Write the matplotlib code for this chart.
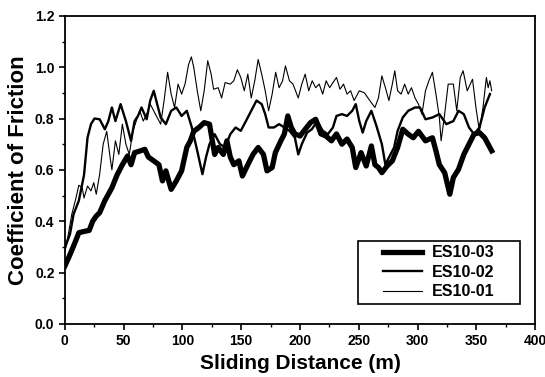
import matplotlib
matplotlib.use("Agg")
import matplotlib.pyplot as plt
from matplotlib.ticker import MultipleLocator
from matplotlib.patches import Rectangle

plt.rcParams['font.family'] = ['Liberation Sans', 'DejaVu Sans']
plt.rcParams['font.weight'] = 'bold'

# ES10-03 (thick)
x3 = [0, 4.4, 8.9, 11.9, 16.3, 20.7, 23.7, 26.7, 29.6, 34, 40, 44.4, 48.9, 53.3, 56.3, 59.3,
      63.7, 68, 71, 75.6, 80, 83, 85.9, 90.4, 94.8, 99.3, 103.7, 106.7, 109.6, 114, 118.5,
      123, 127.4, 130.4, 134.8, 137.8, 140.7, 143.7, 148, 151, 155.6, 160, 164.4, 168.9,
      171.9, 176.3, 179, 183.7, 186.7, 189.6, 192.6, 195.6, 200, 204.4, 208.9, 213.3,
      217.8, 222, 226.7, 231, 235.6, 240, 244.4, 247.4, 251.9, 256.3, 260.7, 263.7, 266.7,
      269.6, 274, 278.5, 283, 287.4, 292, 296.3, 300.7, 306.7, 312.6, 315.6, 318.5, 323,
      327.4, 330.4, 334.8, 339.3, 343.7, 348, 352.6, 357, 363]
y3 = [0.225, 0.27, 0.32, 0.355, 0.36, 0.364, 0.40, 0.42, 0.433, 0.48, 0.53, 0.58, 0.62,
      0.654, 0.62, 0.667, 0.673, 0.68, 0.65, 0.635, 0.62, 0.557, 0.596, 0.524, 0.557, 0.596,
      0.687, 0.713, 0.75, 0.765, 0.784, 0.778, 0.66, 0.687, 0.66, 0.713, 0.65, 0.62, 0.635,
      0.576, 0.62, 0.66, 0.687, 0.66, 0.596, 0.609, 0.667, 0.713, 0.74, 0.81, 0.765, 0.74,
      0.732, 0.758, 0.784, 0.797, 0.74, 0.732, 0.713, 0.74, 0.70, 0.72, 0.687, 0.609, 0.667,
      0.615, 0.693, 0.62, 0.609, 0.589, 0.615, 0.635, 0.687, 0.758, 0.739, 0.725, 0.75,
      0.713, 0.725, 0.674, 0.62, 0.589, 0.505, 0.57, 0.602, 0.66, 0.70, 0.739, 0.745,
      0.725, 0.674]

# ES10-02 (medium)
x2 = [0, 4.4, 7.4, 11.9, 16.3, 19.3, 22.2, 25.2, 29.6, 34, 37, 40, 43, 47.4, 51.9, 56.3,
      59.3, 62.2, 65.2, 69.6, 72.6, 75.6, 78.5, 81.5, 85.9, 90.4, 94.8, 99.3, 103.7, 108,
      112.6, 117, 120, 123, 127.4, 131.9, 136.3, 140.7, 145.2, 149.6, 154, 158.5, 163,
      167.4, 170.4, 173.3, 177.8, 182.2, 186.7, 191, 195.6, 198.5, 201.5, 206, 210, 214.8,
      219.3, 223.7, 228, 231, 235.6, 240, 244.4, 247.4, 250.4, 253.3, 256.3, 260.7, 265,
      269.6, 272.6, 275.6, 280, 283, 287.4, 292, 297.8, 302, 306.7, 312.6, 318.5, 324.4,
      330.4, 334.8, 339.3, 343.7, 348, 352.6, 357, 361.5]
y2 = [0.296, 0.35, 0.427, 0.48, 0.58, 0.726, 0.778, 0.80, 0.797, 0.758, 0.79, 0.843, 0.79,
      0.856, 0.79, 0.713, 0.79, 0.81, 0.843, 0.797, 0.87, 0.908, 0.856, 0.804, 0.778, 0.83,
      0.843, 0.81, 0.83, 0.765, 0.674, 0.583, 0.648, 0.70, 0.739, 0.70, 0.687, 0.739,
      0.765, 0.752, 0.79, 0.83, 0.87, 0.856, 0.817, 0.765, 0.765, 0.778, 0.765, 0.752,
      0.726, 0.66, 0.70, 0.745, 0.758, 0.79, 0.752, 0.739, 0.765, 0.81, 0.817, 0.81, 0.83,
      0.856, 0.79, 0.745, 0.79, 0.83, 0.771, 0.70, 0.62, 0.648, 0.687, 0.752, 0.804, 0.83,
      0.843, 0.843, 0.797, 0.804, 0.817, 0.778, 0.79, 0.83, 0.817, 0.765, 0.739, 0.765,
      0.843, 0.895]

# ES10-01 (thin)
x1 = [0, 3, 5.9, 8.9, 11.9, 14.8, 16.3, 19.3, 22.2, 24.6, 26.7, 29.6, 32.6, 35.6, 38.5, 40,
      43, 45.9, 48.9, 51.9, 54.8, 57.8, 60.7, 63.7, 66.7, 69.6, 72.6, 77, 81.5, 84.4, 87.4,
      90.4, 93.3, 96.3, 99.3, 102.2, 105.2, 107.6, 109.6, 112.6, 115.6, 118.5, 121.5, 124.4,
      126.5, 130.4, 133.3, 136.3, 140.7, 143.7, 146.7, 149.6, 152.6, 155.6, 158.5, 161.5,
      164.4, 167.4, 170.4, 173.3, 176.3, 179.3, 182.2, 185.2, 187.6, 191, 194, 198.5, 201.5,
      204.4, 207.4, 210.4, 213.3, 216.3, 219.3, 222.2, 225.2, 228, 231, 234, 237, 240, 243,
      246, 250.4, 254.8, 259.3, 263.7, 266.7, 269.6, 272.6, 275.6, 278.5, 280.6, 283, 286,
      289, 292, 294.8, 297.8, 300.7, 303.7, 306.7, 309.6, 312.6, 315.6, 318.5, 320, 323, 326,
      330.4, 333.3, 336.3, 338.7, 342.2, 346.7, 349.6, 352.6, 355.6, 358.5, 360, 361.5, 363]
y1 = [0.28, 0.35, 0.427, 0.48, 0.54, 0.53, 0.49, 0.537, 0.518, 0.55, 0.505, 0.583, 0.70,
      0.75, 0.648, 0.60, 0.713, 0.66, 0.778, 0.70, 0.66, 0.75, 0.79, 0.83, 0.79, 0.817,
      0.856, 0.817, 0.778, 0.87, 0.98, 0.895, 0.843, 0.934, 0.895, 0.934, 1.01, 1.04, 1.0,
      0.908, 0.83, 0.908, 1.025, 0.973, 0.914, 0.92, 0.88, 0.94, 0.934, 0.947, 0.99, 0.96,
      0.908, 0.973, 0.88, 0.947, 1.03, 0.973, 0.908, 0.83, 0.895, 0.98, 0.92, 0.947, 1.005,
      0.947, 0.934, 0.88, 0.934, 0.973, 0.908, 0.947, 0.92, 0.934, 0.895, 0.947, 0.92, 0.94,
      0.96, 0.914, 0.934, 0.895, 0.908, 0.87, 0.908, 0.90, 0.87, 0.843, 0.88, 0.966, 0.92,
      0.87, 0.934, 0.986, 0.908, 0.895, 0.934, 0.895, 0.92, 0.88, 0.856, 0.817, 0.908, 0.947,
      0.98, 0.895, 0.804, 0.713, 0.817, 0.934, 0.934, 0.83, 0.96, 0.986, 0.908, 0.953, 0.843,
      0.75, 0.843, 0.96, 0.92, 0.947, 0.908]

labels = ['ES10-03', 'ES10-02', 'ES10-01']

fig = plt.figure(figsize=(5.45, 3.77), dpi=100)
ax = fig.add_axes([0.119, 0.141, 0.863, 0.817])

ax.plot(x3, y3, color='black', lw=3.8, label=labels[0], solid_joinstyle='round')
ax.plot(x2, y2, color='black', lw=1.7, label=labels[1])
ax.plot(x1, y1, color='black', lw=0.8, label=labels[2])

ax.set_xlim(0, 400)
ax.set_ylim(0.0, 1.2)
ax.xaxis.set_major_locator(MultipleLocator(50))
ax.xaxis.set_minor_locator(MultipleLocator(25))
ax.yaxis.set_major_locator(MultipleLocator(0.2))
ax.yaxis.set_minor_locator(MultipleLocator(0.1))
ax.yaxis.set_major_formatter(plt.FormatStrFormatter('%.1f'))
ax.tick_params(which='major', direction='out', length=4, width=1.2, labelsize=10)
ax.tick_params(which='minor', direction='out', length=2, width=1)
for s in ax.spines.values():
    s.set_linewidth(1.3)

ax.set_xlabel('Sliding Distance (m)', fontsize=15, fontweight='bold', labelpad=4)
ax.set_ylabel('Coefficient of Friction', fontsize=16, fontweight='bold', labelpad=4)

# legend box (frame drawn separately for wide horizontal padding)
bx0, by0, bx1, by1 = 0.624, 0.065, 0.968, 0.269
ax.add_patch(Rectangle((bx0, by0), bx1 - bx0, by1 - by0, transform=ax.transAxes,
                       fill=True, facecolor='white', edgecolor='black', lw=1.2, zorder=4))
leg = ax.legend(loc='center', bbox_to_anchor=((bx0 + bx1) / 2, (by0 + by1) / 2),
                fontsize=11.5, frameon=False, handlelength=2.4, handletextpad=0.66,
                borderpad=0.0, labelspacing=0.28)
leg.set_zorder(5)

fig.savefig('out.png', dpi=100)
